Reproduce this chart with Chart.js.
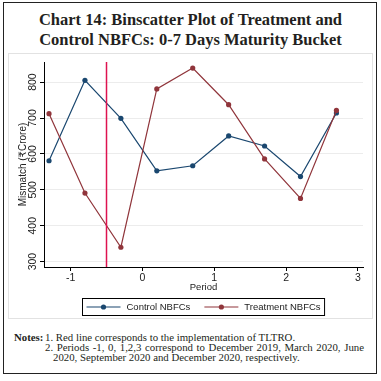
<!DOCTYPE html>
<html>
<head>
<meta charset="utf-8">
<script src="https://cdn.jsdelivr.net/npm/chart.js@4"></script>
<style>
  html, body { margin: 0; padding: 0; background: #fff; }
  body { width: 381px; height: 381px; position: relative; overflow: hidden; }
  #outer { position: absolute; left: 3px; top: 2px; width: 374px; height: 372px; border: 1px solid #222; box-sizing: border-box; }
  #title { position: absolute; left: 0; top: 10px; width: 381px; text-align: center;
           font-family: "Liberation Serif", "DejaVu Serif", serif; font-weight: bold; font-size: 16.5px;
           line-height: 20px; color: #231f20; }
  #panel { position: absolute; left: 8px; top: 53px; width: 365px; height: 266px; border: 1px solid #e2e2e2; box-sizing: border-box; }
  #chart { position: absolute; left: 8px; top: 53px; }
  #notes { position: absolute; left: 0; top: 332px; width: 381px; font-family: "Liberation Serif", serif;
           font-size: 10.8px; line-height: 10px; color: #231f20; }
  #notes .lbl { position: absolute; left: 14px; top: 0; font-weight: bold; }
  #notes .item { position: absolute; left: 45px; width: 319px; }
  #notes .just { text-align: justify; text-align-last: justify; }
</style>
</head>
<body>
<div id="outer"></div>
<div id="title">Chart 14: Binscatter Plot of Treatment and<br>Control NBFCs: 0-7 Days Maturity Bucket</div>
<div id="panel"></div>
<canvas id="chart" width="365" height="266"></canvas>
<div id="notes">
  <span class="lbl">Notes:</span>
  <div class="item" style="top:0">1. Red line corresponds to the implementation of TLTRO.</div>
  <div class="item just" style="top:10px">2. Periods -1, 0, 1,2,3 correspond to December 2019, March 2020, June</div>
  <div class="item" style="top:20px; left:53px; width:311px">2020, September 2020 and December 2020, respectively.</div>
</div>
<script>
// ---- data ----
const periods = [-1.3, -0.8, -0.3, 0.2, 0.7, 1.2, 1.7, 2.2, 2.7];
const controlValues = [581, 805, 699, 553, 567, 650, 622, 537, 714];
const treatmentValues = [712, 491, 340, 781, 839, 737, 586, 476, 721];
const seriesLabels = ["Control NBFCs", "Treatment NBFCs"];
const xTickValues = [-1, 0, 1, 2, 3];
const yTickValues = [300, 400, 500, 600, 700, 800];
const tltroPeriod = -0.5;

const blue = '#1a476f';
const red = '#90353b';
const sans = "'Liberation Sans', Arial, 'DejaVu Sans', sans-serif";

const toPoints = vals => periods.map((p, i) => ({ x: p, y: vals[i] }));

const tltroLine = {
  id: 'tltroLine',
  afterDatasetsDraw(chart) {
    const { ctx, chartArea, scales } = chart;
    const x = scales.x.getPixelForValue(tltroPeriod);
    ctx.save();
    ctx.strokeStyle = 'rgb(222, 18, 80)';
    ctx.lineWidth = 1.5;
    ctx.beginPath();
    ctx.moveTo(x, chartArea.top);
    ctx.lineTo(x, chartArea.bottom);
    ctx.stroke();
    ctx.restore();
  }
};

const boxLegend = {
  id: 'boxLegend',
  afterDraw(chart) {
    const { ctx } = chart;
    const ds = [chart.data.datasets.find(d => d.label === seriesLabels[0]),
                chart.data.datasets.find(d => d.label === seriesLabels[1])];
    ctx.save();
    ctx.font = '9.5px ' + sans;
    const sample = 34, gap = 6, pad = 4, itemGap = 14;
    const widths = ds.map(d => ctx.measureText(d.label).width);
    const total = pad * 2 + widths.reduce((a, w) => a + sample + gap + w, 0) + itemGap;
    const left = 74.5, top = 245.5, h = 17;
    ctx.strokeStyle = '#000';
    ctx.lineWidth = 1;
    ctx.strokeRect(left, top, total, h);
    const cy = top + h / 2;
    let x = left + pad;
    ds.forEach((d, i) => {
      ctx.strokeStyle = d.borderColor;
      ctx.lineWidth = 1.2;
      ctx.beginPath();
      ctx.moveTo(x, cy); ctx.lineTo(x + sample, cy); ctx.stroke();
      ctx.fillStyle = d.borderColor;
      ctx.beginPath();
      ctx.arc(x + sample / 2, cy, 2.6, 0, Math.PI * 2);
      ctx.fill();
      ctx.fillStyle = '#222';
      ctx.textBaseline = 'middle';
      ctx.textAlign = 'left';
      ctx.fillText(d.label, x + sample + gap, cy + 0.5);
      x += sample + gap + widths[i] + itemGap;
    });
    ctx.restore();
  }
};

new Chart(document.getElementById('chart'), {
  type: 'line',
  data: {
    datasets: [
      { label: seriesLabels[0], data: toPoints(controlValues), borderColor: blue, backgroundColor: blue,
        borderWidth: 1.2, pointRadius: 2.6, pointBackgroundColor: blue, pointBorderWidth: 0, tension: 0, order: 1 },
      { label: seriesLabels[1], data: toPoints(treatmentValues), borderColor: red, backgroundColor: red,
        borderWidth: 1.2, pointRadius: 2.6, pointBackgroundColor: red, pointBorderWidth: 0, tension: 0, order: 0 }
    ]
  },
  options: {
    responsive: false,
    animation: false,
    devicePixelRatio: 1,
    layout: { padding: { left: 0, right: 10, top: 9, bottom: 0 } },
    plugins: { legend: { display: false }, tooltip: { enabled: false } },
    scales: {
      x: {
        type: 'linear', min: -1.37, max: 3.07,
        afterFit(s) { s.height = 52; },
        afterBuildTicks(s) { s.ticks = xTickValues.map(v => ({ value: v })); },
        ticks: { font: { family: sans, size: 10.5 }, color: '#222', padding: 1 },
        grid: { drawOnChartArea: false, drawTicks: true, tickLength: 4, tickColor: '#000' },
        border: { color: '#000', width: 1 },
        title: { display: true, text: 'Period', font: { family: sans, size: 9.5 }, color: '#222',
                 padding: { top: 0, bottom: 26 } }
      },
      y: {
        type: 'linear', min: 285, max: 856,
        afterFit(s) { s.width = 36; },
        afterBuildTicks(s) { s.ticks = yTickValues.map(v => ({ value: v })); },
        ticks: { font: { family: sans, size: 10.5 }, color: '#222', padding: -1.5,
                 minRotation: 90, maxRotation: 90, crossAlign: 'center' },
        grid: { color: '#ececec', lineWidth: 1, drawTicks: true, tickLength: 4, tickColor: '#000' },
        border: { color: '#000', width: 1 },
        title: { display: true, text: 'Mismatch (₹Crore)', font: { family: sans, size: 10 }, color: '#222',
                 padding: { top: 9, bottom: 0 } }
      }
    }
  },
  plugins: [tltroLine, boxLegend]
});
</script>
</body>
</html>
